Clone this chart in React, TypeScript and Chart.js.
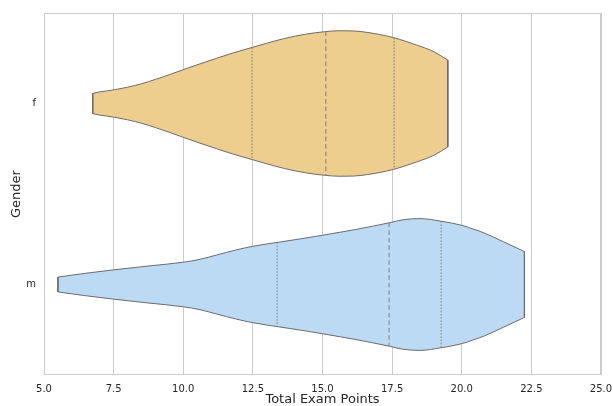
import React, { useEffect, useRef } from "react";
import { Chart, registerables } from "chart.js";

Chart.register(...registerables);

const categories = ["f", "m"];
const xTicks = [5, 7.5, 10, 12.5, 15, 17.5, 20, 22.5, 25];

// Violin outline: x positions (exam points) and half-widths (in category units)
const fX = [6.75, 7.0, 7.5, 8.0, 8.5, 9.0, 9.5, 10.0, 10.6, 11.2, 11.8, 12.5, 13.0, 13.6, 14.4, 15.1, 15.6, 16.1, 16.6, 17.0, 17.55, 18.0, 18.4, 19.0, 19.5];
const fW = [0.056, 0.064, 0.075, 0.09, 0.109, 0.133, 0.159, 0.187, 0.219, 0.25, 0.28, 0.311, 0.333, 0.358, 0.383, 0.397, 0.402, 0.401, 0.393, 0.383, 0.364, 0.343, 0.322, 0.286, 0.24];
const fQuartiles = [12.47, 15.12, 17.57];

const mX = [5.5, 6.5, 7.5, 8.8, 10.0, 10.6, 11.2, 11.9, 12.5, 13.0, 13.4, 14.2, 15.0, 15.6, 16.2, 16.8, 17.4, 17.9, 18.5, 19.25, 20.0, 20.4, 20.8, 21.5, 22.25];
const mW = [0.041, 0.062, 0.081, 0.103, 0.123, 0.139, 0.163, 0.191, 0.211, 0.224, 0.233, 0.252, 0.272, 0.288, 0.304, 0.322, 0.341, 0.358, 0.364, 0.35, 0.327, 0.307, 0.285, 0.236, 0.182];
const mQuartiles = [13.37, 17.39, 19.26];

const fillColors = ["#EECE8E", "#BDDAF5"];
const edgeColor = "#6b6b6b";
const quartColor = "#7c7c7c";
const gridColor = "#cccccc";
const textColor = "#262626";

function interp(xs: number[], ws: number[], q: number): number {
  for (let i = 0; i < xs.length - 1; i++) {
    if (q >= xs[i] && q <= xs[i + 1]) {
      const t = (q - xs[i]) / (xs[i + 1] - xs[i]);
      return ws[i] + t * (ws[i + 1] - ws[i]);
    }
  }
  return 0;
}

const borderPlugin = {
  id: "plotBorder",
  beforeDatasetsDraw(chart: any) {
    const { ctx, chartArea } = chart;
    ctx.save();
    ctx.strokeStyle = gridColor;
    ctx.lineWidth = 1;
    ctx.strokeRect(chartArea.left + 0.5, chartArea.top + 0.5, chartArea.right - chartArea.left - 1, chartArea.bottom - chartArea.top - 1);
    ctx.restore();
  },
};

export default function App() {
  const ref = useRef<HTMLCanvasElement | null>(null);
  useEffect(() => {
    if (!ref.current) return;
    const groups = [
      { xs: fX, ws: fW, qs: fQuartiles, c: 0, color: fillColors[0] },
      { xs: mX, ws: mW, qs: mQuartiles, c: 1, color: fillColors[1] },
    ];
    const datasets: any[] = [];
    const lineBase = {
      showLine: true,
      pointRadius: 0,
      borderColor: edgeColor,
      borderWidth: 1,
    };
    groups.forEach((g) => {
      const n = g.xs.length;
      datasets.push({
        ...lineBase,
        data: g.xs.map((x, i) => ({ x, y: g.c - g.ws[i] })),
        fill: "+1",
        backgroundColor: g.color,
        cubicInterpolationMode: "monotone",
        order: 3,
      });
      datasets.push({
        ...lineBase,
        data: g.xs.map((x, i) => ({ x, y: g.c + g.ws[i] })),
        fill: false,
        cubicInterpolationMode: "monotone",
        order: 2,
      });
      [0, n - 1].forEach((idx) => {
        datasets.push({
          ...lineBase,
          data: [
            { x: g.xs[idx], y: g.c - g.ws[idx] },
            { x: g.xs[idx], y: g.c + g.ws[idx] },
          ],
          fill: false,
          order: 2,
        });
      });
      g.qs.forEach((q, qi) => {
        const hw = interp(g.xs, g.ws, q);
        datasets.push({
          ...lineBase,
          data: [
            { x: q, y: g.c - hw },
            { x: q, y: g.c + hw },
          ],
          fill: false,
          borderColor: quartColor,
          borderWidth: 1,
          borderDash: qi === 1 ? [4.5, 3] : [1.6, 1.6],
          order: 1,
        });
      });
    });
    const chart = new Chart(ref.current, {
      type: "scatter",
      data: { datasets },
      plugins: [borderPlugin],
      options: {
        animation: false,
        responsive: false,
        layout: { padding: { top: 13, right: 12, left: 0, bottom: 0 } },
        plugins: { legend: { display: false }, tooltip: { enabled: false } },
        scales: {
          x: {
            type: "linear",
            min: 5,
            max: 25,
            afterBuildTicks: (s: any) => {
              s.ticks = xTicks.map((v) => ({ value: v }));
            },
            ticks: {
              callback: (v: any) => Number(v).toFixed(1),
              color: textColor,
              font: { family: "DejaVu Sans", size: 10 },
              padding: 8,
              maxRotation: 0,
              autoSkip: false,
            },
            grid: { color: gridColor, lineWidth: 1, drawTicks: false },
            border: { display: false },
            title: {
              display: true,
              text: "Total Exam Points",
              color: textColor,
              font: { family: "DejaVu Sans", size: 13, lineHeight: 1 },
              padding: 0,
            },
            afterFit: (s: any) => {
              s.height = 31;
              s.paddingLeft = 0;
              s.paddingRight = 0;
            },
          },
          y: {
            type: "linear",
            min: -0.5,
            max: 1.5,
            reverse: true,
            afterBuildTicks: (s: any) => {
              s.ticks = categories.map((_, i) => ({ value: i }));
            },
            ticks: {
              callback: (v: any) => categories[Number(v)],
              color: textColor,
              font: { family: "DejaVu Sans", size: 10 },
              padding: 8,
            },
            grid: { display: false, drawTicks: false },
            border: { display: false },
            title: {
              display: true,
              text: "Gender",
              color: textColor,
              font: { family: "DejaVu Sans", size: 13, lineHeight: 1 },
              padding: { top: 10, bottom: 0 },
            },
            afterFit: (s: any) => {
              s.width = 44;
              s.paddingTop = 0;
              s.paddingBottom = 0;
            },
          },
        },
      },
    } as any);
    return () => chart.destroy();
  }, []);
  return (
    <div style={{ position: "absolute", left: 0, top: 0, width: 613, height: 406 }}>
      <canvas ref={ref} width={613} height={406} style={{ width: 613, height: 406 }} />
    </div>
  );
}
